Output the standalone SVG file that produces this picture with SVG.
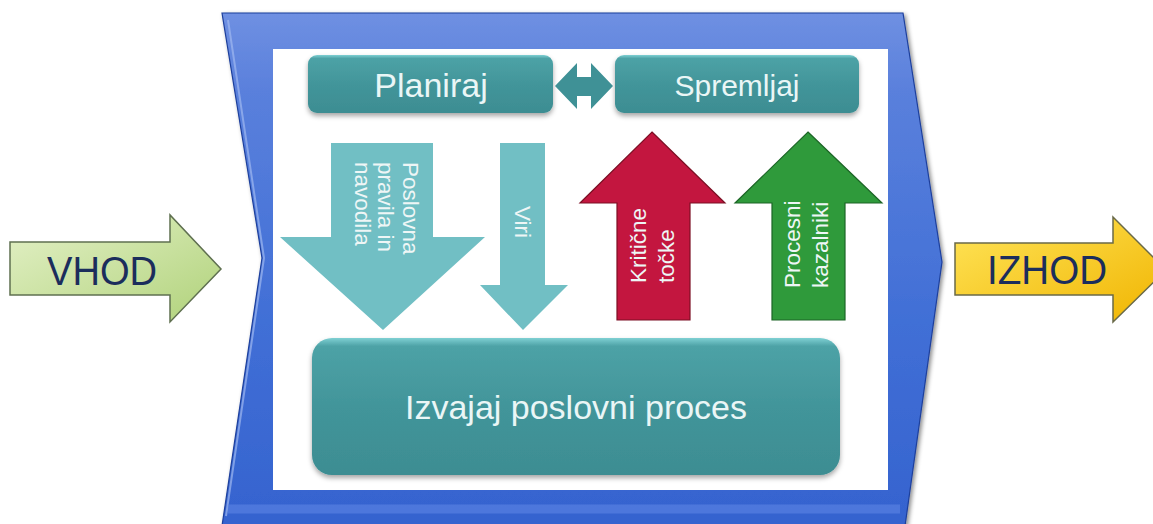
<svg xmlns="http://www.w3.org/2000/svg" width="1153" height="524" viewBox="0 0 1153 524">
  <style>
    .box { fill: url(#tealBox); filter: url(#shadow); }
    .boxText { font-family: "Liberation Sans", Arial, sans-serif; fill: #eaf6f6; text-anchor: middle; }
    .vlabel { font-family: "Liberation Sans", Arial, sans-serif; font-size: 22.5px; fill: #eef6f6; }
    .io { font-family: "Liberation Sans", Arial, sans-serif; font-size: 40px; fill: #1b2d5c; text-anchor: middle; }
  </style>
  <defs>
    <linearGradient id="frameFill" x1="0" y1="0" x2="0" y2="1">
      <stop offset="0" stop-color="#6f90e2"/>
      <stop offset="0.15" stop-color="#5a80dc"/>
      <stop offset="0.6" stop-color="#416fd6"/>
      <stop offset="1" stop-color="#3563cf"/>
    </linearGradient>
    <linearGradient id="tealBox" x1="0" y1="0" x2="0" y2="1">
      <stop offset="0" stop-color="#7fd0d3"/>
      <stop offset="0.06" stop-color="#4da2a6"/>
      <stop offset="0.5" stop-color="#42959a"/>
      <stop offset="1" stop-color="#3d8d92"/>
    </linearGradient>
    <linearGradient id="greenIn" x1="0" y1="0" x2="1" y2="1">
      <stop offset="0" stop-color="#e4f1c8"/>
      <stop offset="1" stop-color="#b0d27a"/>
    </linearGradient>
    <linearGradient id="goldOut" x1="0" y1="0" x2="1" y2="1">
      <stop offset="0" stop-color="#ffe55a"/>
      <stop offset="1" stop-color="#f0b400"/>
    </linearGradient>
    <filter id="shadow" x="-10%" y="-10%" width="120%" height="130%">
      <feDropShadow dx="0" dy="3" stdDeviation="2.5" flood-color="#000" flood-opacity="0.35"/>
    </filter>
    <filter id="frameShadow" x="-5%" y="-5%" width="110%" height="110%">
      <feDropShadow dx="2" dy="2" stdDeviation="2" flood-color="#000" flood-opacity="0.45"/>
    </filter>
  </defs>

  <!-- process frame -->
  <g id="frame">
    <polygon points="222,13 903,13 942,262 905,526 222,526 262,258" fill="url(#frameFill)" stroke="#1d3f9c" stroke-width="1.2" filter="url(#frameShadow)"/>
    <polyline points="226,516 264,258 228,20" fill="none" stroke="#9fb8f0" stroke-width="2" opacity="0.7"/>
    <polyline points="228,509 900,509" fill="none" stroke="#5d86e4" stroke-width="9" opacity="0.6"/>
    <rect x="273" y="49" width="615" height="441" fill="#ffffff"/>
  </g>

  <g id="planiraj">
    <rect class="box" x="308" y="55" width="245" height="58" rx="9"/>
    <text class="boxText" x="431" y="97" font-size="34">Planiraj</text>
  </g>

  <g id="spremljaj">
    <rect class="box" x="615" y="55" width="244" height="58" rx="9"/>
    <text class="boxText" x="737" y="96" font-size="30">Spremljaj</text>
  </g>

  <g id="izvajaj">
    <rect class="box" x="312" y="338" width="528" height="137" rx="20"/>
    <text class="boxText" x="576" y="419" font-size="34">Izvajaj poslovni proces</text>
  </g>

  <g id="vhod">
    <polygon points="10,242 170,242 170,215 221,269 170,322 170,295 10,295" fill="url(#greenIn)" stroke="#5f7050" stroke-width="1.5"/>
    <text class="io" x="102" y="285" textLength="110" lengthAdjust="spacingAndGlyphs">VHOD</text>
  </g>

  <g id="izhod">
    <polygon points="955,243 1113,243 1113,217 1166,270 1113,322 1113,295 955,295" fill="url(#goldOut)" stroke="#6a6a48" stroke-width="1.5"/>
    <text class="io" x="1047" y="284" textLength="120" lengthAdjust="spacingAndGlyphs">IZHOD</text>
  </g>

  <!-- connectors between the process parts -->
  <g id="connectors">
    <!-- two-way link Planiraj / Spremljaj -->
    <polygon id="link" points="555,86 577,63 577,77 591,77 591,63 613,86 591,109 591,96 577,96 577,109" fill="#3f9196"/>

    <g id="pravila">
      <polygon points="331,143 433,143 433,237 485,237 383,330 280,237 331,237" fill="#71bfc4"/>
      <text class="vlabel" transform="translate(403,162) rotate(90)">
        <tspan x="0" y="0">Poslovna</tspan>
        <tspan x="0" y="25">pravila in</tspan>
        <tspan x="0" y="48">navodila</tspan>
      </text>
    </g>

    <g id="viri">
      <polygon points="500,143 545,143 545,285 568,285 523,330 480,285 500,285" fill="#71bfc4"/>
      <text class="vlabel" transform="translate(515,206) rotate(90)">Viri</text>
    </g>

    <g id="kriticne">
      <polygon points="652,132 725,203 690,203 690,320 617,320 617,203 580,203" fill="#c3163f" stroke="#7c0f24" stroke-width="1.2"/>
      <text class="vlabel" transform="translate(646,283) rotate(-90)">
        <tspan x="0" y="0">Kritične</tspan>
        <tspan x="0" y="28">točke</tspan>
      </text>
    </g>

    <g id="kazalniki">
      <polygon points="808,132 882,203 845,203 845,320 772,320 772,203 735,203" fill="#2f9a3b" stroke="#1c6526" stroke-width="1.2"/>
      <text class="vlabel" transform="translate(800,288) rotate(-90)">
        <tspan x="0" y="0">Procesni</tspan>
        <tspan x="0" y="28">kazalniki</tspan>
      </text>
    </g>
  </g>
</svg>
